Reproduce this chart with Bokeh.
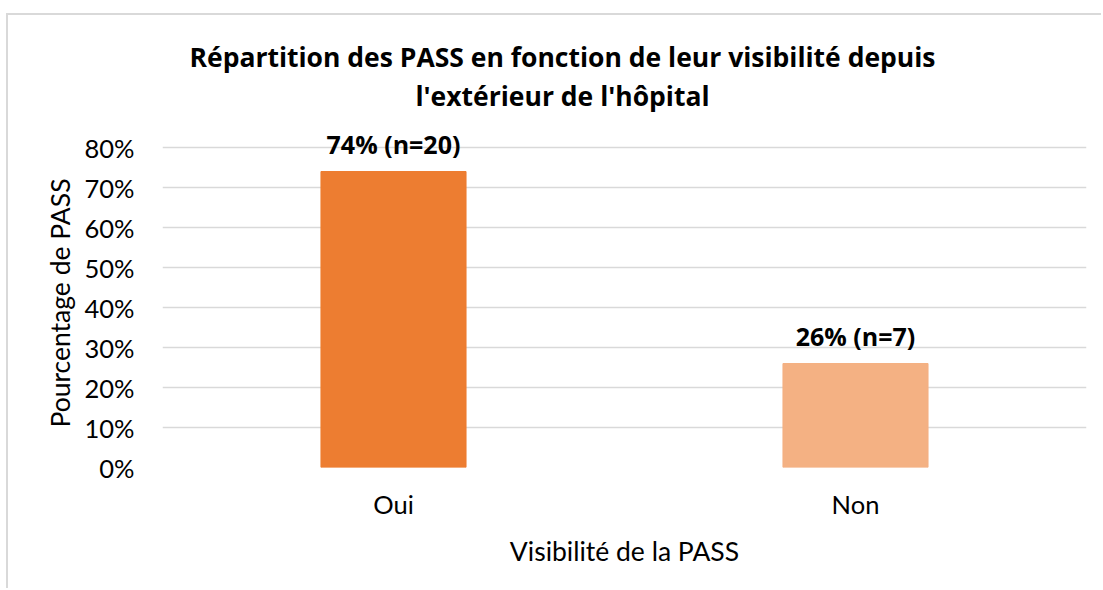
from bokeh.plotting import figure
from bokeh.models import (ColumnDataSource, LabelSet, Label, NumeralTickFormatter,
                          FixedTicker, FactorRange, Range1d, Title)
from bokeh.core.properties import value
from bokeh.embed import file_html
from bokeh.resources import INLINE

categories = ["Oui", "Non"]
percent = [74, 26]
counts = [20, 7]
colors = ["#ED7D31", "#F4B183"]
y_ticks = [0, 0.1, 0.2, 0.3, 0.4, 0.5, 0.6, 0.7, 0.8]
title_lines = ["Répartition des PASS en fonction de leur visibilité depuis",
               "l'extérieur de l'hôpital"]
x_label = "Visibilité de la PASS"
y_label = "Pourcentage de PASS"

FONT = "Lato"
BOLD_FONT = "Open Sans"

src = ColumnDataSource(dict(
    cat=categories,
    val=[v / 100 for v in percent],
    lab=[f"{v}% (n={n})" for v, n in zip(percent, counts)],
    col=colors,
))

p = figure(width=1095, height=575, x_range=FactorRange(*categories, range_padding=0),
           y_range=Range1d(0, 0.8 + 132 / 400), output_backend="svg", toolbar_location=None,
           min_border_left=154, min_border_right=17, min_border_top=0,
           min_border_bottom=123,
           margin=(13, 0, 0, 6),
           styles={"border-top": "2px solid #d9d9d9", "border-left": "2px solid #d9d9d9"})

p.vbar(x="cat", top="val", width=0.314, color="col", source=src)

p.add_layout(LabelSet(x="cat", y="val", text="lab", source=src, y_offset=28,
                      text_align="center", text_baseline="middle",
                      text_font=value(BOLD_FONT), text_font_size="25px",
                      text_font_style="bold", text_color="#000000"))

ys = [0.8 + 91 / 400, 0.8 + 52 / 400]
for t, yy in zip(title_lines, ys):
    p.add_layout(Label(x=400, x_units="screen", y=yy, text=t, text_align="center",
                       text_baseline="middle", text_font=BOLD_FONT, text_font_size="26.5px",
                       text_font_style="bold", text_color="#000000"))

p.yaxis.ticker = FixedTicker(ticks=y_ticks)
p.yaxis.formatter = NumeralTickFormatter(format="0%")
p.ygrid.grid_line_color = "#d9d9d9"
p.ygrid.grid_line_width = 1.5
p.xgrid.grid_line_color = None
p.outline_line_color = None

for ax in (p.xaxis, p.yaxis):
    ax.axis_line_color = None
    ax.major_tick_line_color = None
    ax.minor_tick_line_color = None
    ax.major_label_text_font = FONT
    ax.major_label_text_font_size = "25.5px"
    ax.major_label_text_color = "#000000"
    ax.axis_label_text_font = FONT
    ax.axis_label_text_font_size = "26.5px"
    ax.axis_label_text_font_style = "normal"
    ax.axis_label_text_color = "#000000"

p.xaxis.axis_label = x_label
p.yaxis.major_label_standoff = 22
p.xaxis.major_label_standoff = 15
p.xaxis.axis_label_standoff = 13

# y-axis title, anchored from the bottom of the plotting frame
p.add_layout(Title(text=y_label, align="left", offset=40, vertical_align="bottom",
                   standoff=12, text_font=FONT, text_font_size="26.5px",
                   text_font_style="normal", text_color="#000000"), "left")

open("out.html", "w").write(file_html(p, INLINE))
